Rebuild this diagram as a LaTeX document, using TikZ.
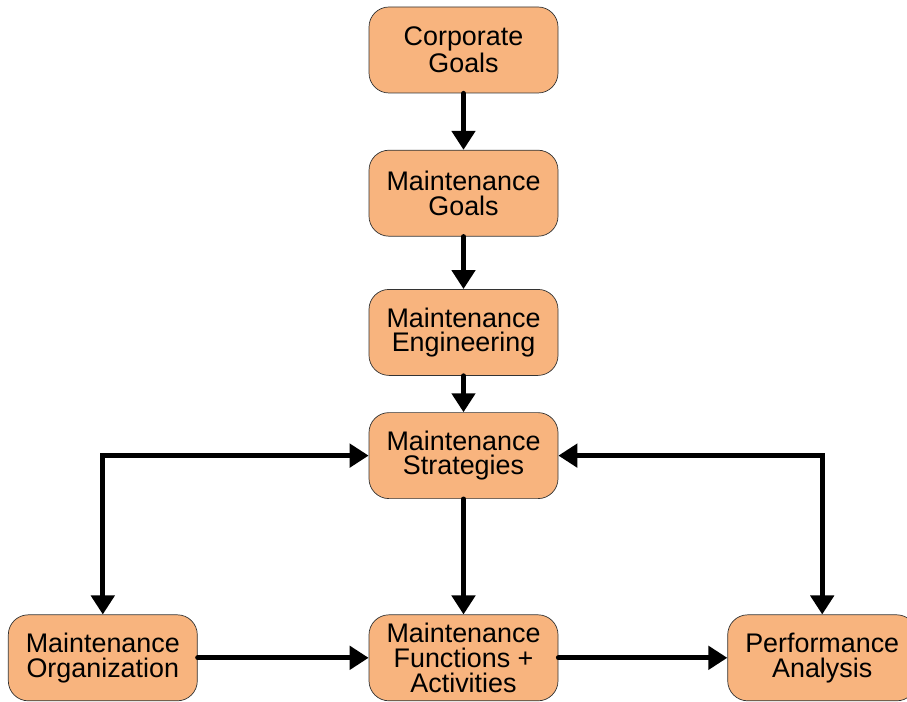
\documentclass[tikz,border=0pt]{standalone}
\usepackage{fontspec}
\setmainfont{Liberation Sans}
\usetikzlibrary{
  positioning,
  arrows.meta
}
\definecolor{boxorange}{HTML}{F8B47E}
\tikzset{
  block/.style={rectangle,rounded corners=0.4cm,draw=black!80,fill=boxorange,
    minimum width=3.78cm,minimum height=1.72cm,inner sep=0pt,align=center,
    font=\fontsize{15.3}{14}\selectfont},
  link/.style={line width=2.8pt,line cap=round,-{Triangle[width=0.46cm,length=0.38cm]}},
  twoway/.style={link,{Triangle[width=0.46cm,length=0.38cm]}-{Triangle[width=0.46cm,length=0.38cm]}}
}

\begin{document}
\begin{tikzpicture}[node distance = 1cm]
    \useasboundingbox (0,0) rectangle (18.14,-14.04);
    \node[block] (corp) at (9.27,-1.0) {Corporate\\Goals};
    \node[block,below = 1.13cm of corp] (mgoals) {Maintenance\\Goals};
    \node[block,below = 1.05cm of mgoals] (meng) {Maintenance\\Engineering};
    \node[block,below = 0.73cm of meng] (mstrat) {Maintenance\\Strategies};
    \node[block,below = 2.31cm of mstrat] (mfunc) {Maintenance\\Functions +\\Activities};
    \node[block,left = 3.42cm of mfunc] (morg) {Maintenance\\Organization};
    \node[block,right = 3.38cm of mfunc] (mperf) {Performance\\Analysis};

    \draw[link] (corp) -- (mgoals);
    \draw[link] (mgoals) -- (meng);
    \draw[link] (meng) -- (mstrat);
    \draw[link] (mstrat) -- (mfunc);
    \draw[twoway] (morg.north) |- (mstrat.west);
    \draw[twoway] (mperf.north) |- (mstrat.east);
    \draw[link] (morg) -- (mfunc);
    \draw[link] (mfunc) -- (mperf);
\end{tikzpicture}
\end{document}
